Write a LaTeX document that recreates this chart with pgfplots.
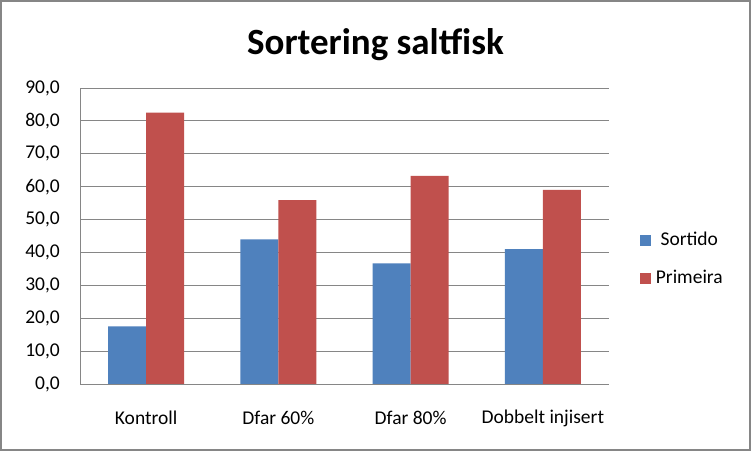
\documentclass[border=0pt]{standalone}
\usepackage{pgfplots}
\pgfplotsset{compat=1.18}
\usepackage{fontspec}
\setmainfont{Carlito}
\definecolor{sblue}{HTML}{4F81BD}
\definecolor{sred}{HTML}{C0504D}
\definecolor{gridgray}{HTML}{868686}
\begin{document}
\begin{tikzpicture}
\useasboundingbox (-80bp,-67bp) rectangle (672bp,384bp);
\draw[gridgray, line width=2bp, fill=white] (-79bp,-66bp) rectangle (670bp,383bp);
\begin{axis}[
  at={(0,0)}, anchor=south west,
  scale only axis, width=529bp, height=296bp,
  xmin=-0.5, xmax=3.5, ymin=0, ymax=90,
  ytick={0,10,...,90},
  xtick={0,1,2,3},
  xticklabels={Kontroll, Dfar 60\%, Dfar 80\%, Dobbelt injisert},
  ybar=0pt, bar width=38bp,
  axis x line*=bottom, axis y line*=left,
  axis line style={draw=gridgray, line width=0.8bp},
  ymajorgrids, xmajorgrids=false,
  grid style={draw=gridgray, line width=0.8bp},
  major tick length=0pt,
  tick label style={font=\fontsize{19.5bp}{23bp}\selectfont},
  /pgf/number format/assume math mode=true,
  yticklabel={\pgfmathprintnumber[fixed, fixed zerofill, precision=1, use comma]{\tick}},
  yticklabel style={anchor=east, inner sep=0pt, xshift=-20bp},
  xticklabel style={anchor=center, inner sep=0pt, yshift=-34bp},
  legend style={draw=none, fill=none, at={(rel axis cs:1.058,0.42)}, anchor=west,
    font=\fontsize{19.5bp}{23bp}\selectfont, /tikz/row sep=21bp, inner sep=0pt,
    nodes={inner xsep=4.5bp, inner ysep=0pt, text height=13bp, text depth=4bp}},
  legend image code/.code={\fill[#1] (0bp,-5.75bp) rectangle (11.5bp,5.75bp);},
]
\addplot[fill=sblue, draw=none] coordinates {(0,17.5) (1,44.0) (2,36.7) (3,41.0)};
\addplot[fill=sred, draw=none] coordinates {(0,82.5) (1,55.9) (2,63.3) (3,59.0)};
\legend{Sortido, Primeira}
\end{axis}
\node[font=\bfseries\fontsize{37bp}{42bp}\selectfont] at (295.5bp,339bp) {Sortering saltfisk};
\end{tikzpicture}
\end{document}
